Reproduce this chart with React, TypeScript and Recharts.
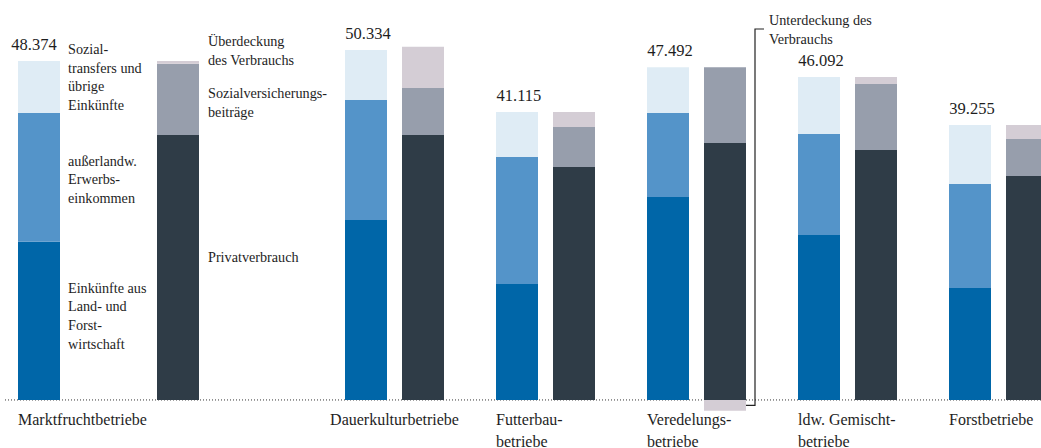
import React from 'react';
import { BarChart, Bar, XAxis, YAxis, CartesianGrid, LabelList } from 'recharts';

// ---------- data ----------
const categories = [
  'Marktfruchtbetriebe',
  'Dauerkulturbetriebe',
  'Futterbau-\nbetriebe',
  'Veredelungs-\nbetriebe',
  'ldw. Gemischt-\nbetriebe',
  'Forstbetriebe',
];
const totals = [48374, 50334, 41115, 47492, 46092, 39255];
// income side
const landForst = [22590, 25686, 16553, 28968, 23546, 15982];
const ausserlandw = [18366, 17124, 18123, 11987, 14413, 14841];
const sozialtransfers = [7418, 7135, 6439, 6537, 8133, 8432];
// use side
const privatverbrauch = [37816, 37816, 33249, 36674, 35675, 31965];
const sozialversicherung = [10175, 6707, 5708, 10818, 9418, 5280];
const ueberdeckung = [383, 5890, 2158, 0, 999, 2010];
const unterdeckung = [0, 0, 0, -1527, 0, 0];

const lblLandForst = ['Einkünfte aus', 'Land- und', 'Forst-', 'wirtschaft'];
const lblAusser = ['außerlandw.', 'Erwerbs-', 'einkommen'];
const lblSozial = ['Sozial-', 'transfers und', 'übrige', 'Einkünfte'];
const lblPrivat = ['Privatverbrauch'];
const lblSV = ['Sozialversicherungs-', 'beiträge'];
const lblUeber = ['Überdeckung', 'des Verbrauchs'];
const lblUnter = ['Unterdeckung des', 'Verbrauchs'];

const rows = categories.map((name, i) => ({
  name,
  total: totals[i],
  landForst: landForst[i],
  ausserlandw: ausserlandw[i],
  sozialtransfers: sozialtransfers[i],
  privatverbrauch: privatverbrauch[i],
  sozialversicherung: sozialversicherung[i],
  ueberdeckung: ueberdeckung[i],
  unterdeckung: unterdeckung[i],
}));

// ---------- style ----------
const C = {
  landForst: '#0066A8',
  ausser: '#5494C9',
  sozial: '#DFECF5',
  privat: '#2F3C47',
  sv: '#979EAC',
  ueber: '#D4CDD5',
};
const FONT = 'Liberation Serif, DejaVu Serif, serif';
const TEXT = '#1e1e1e';
const W = 1041;
const H = 448;
const X_H = 1;
const MARGIN = { top: 21.6, right: 0, bottom: 5, left: 0 };
const Y_DOMAIN: [number, number] = [-6000, 54000];
const PLOT_H = H - MARGIN.top - MARGIN.bottom - X_H;
const BASE_Y = MARGIN.top + (PLOT_H * Y_DOMAIN[1]) / (Y_DOMAIN[1] - Y_DOMAIN[0]);
const BAR = 42;
const GAP_A = 97;
const GAP_B = 15;

const textStyle = { fontFamily: FONT } as React.CSSProperties;

const fmt = (n: number) => String(n).replace(/\B(?=(\d{3})+(?!\d))/g, '.');

const boxOf = (p: any) => {
  const b = p.viewBox && p.viewBox.width !== undefined ? p.viewBox : p;
  const x = Number(b.x);
  const y = Number(b.y);
  const w = Number(b.width);
  const h = Number(b.height);
  return { x, w, top: Math.min(y, y + h), bottom: Math.max(y, y + h) };
};

const makeTick = (gap: number) => (props: any) => {
  const { x, payload } = props;
  const lines = String(payload.value).split('\n');
  const pairW = 2 * BAR + gap;
  const estW = Math.max(...lines.map((l) => l.length)) * 16 * 0.43;
  const centered = estW > pairW;
  const tx = centered ? x : x - pairW / 2;
  return (
    <text
      x={tx}
      y={BASE_Y + 25}
      textAnchor={centered ? 'middle' : 'start'}
      style={textStyle}
      fontSize={16}
      fill={TEXT}
    >
      {lines.map((l, i) => (
        <tspan key={i} x={tx} y={BASE_Y + 25 + i * 22}>
          {l}
        </tspan>
      ))}
    </text>
  );
};

const totalLabel = (shift: number) => (p: any) => {
  const b = boxOf(p);
  if (!isFinite(b.x)) return null;
  return (
    <text
      x={b.x + b.w / 2 + shift}
      y={b.top - 11}
      textAnchor="middle"
      style={textStyle}
      fontSize={16.5}
      fill={TEXT}
    >
      {fmt(Number(p.value))}
    </text>
  );
};

const LH = 18.7;
const annot =
  (lines: string[], mode: 'middle' | 'bottom', shift: number, dx: number) => (p: any) => {
    const b = boxOf(p);
    if (!isFinite(b.x)) return null;
    const n = lines.length;
    const tx = b.x + b.w + dx;
    const first =
      mode === 'middle'
        ? (b.top + b.bottom) / 2 - ((n - 1) * LH) / 2 + 5 + shift
        : b.bottom - (n - 1) * LH + shift;
    return (
      <text x={tx} y={first} style={textStyle} fontSize={14.2} fill={TEXT}>
        {lines.map((l, i) => (
          <tspan key={i} x={tx} y={first + i * LH}>
            {l}
          </tspan>
        ))}
      </text>
    );
  };

const unterLabel = (p: any) => {
  const b = boxOf(p);
  if (!isFinite(b.x) || !(Number(p.value) < 0)) return null;
  const x0 = b.x + b.w;
  const midY = (b.top + b.bottom) / 2;
  const vx = x0 + 9;
  const topY = 29;
  const tx = x0 + 23;
  return (
    <g>
      <polyline
        points={`${vx + 9},${topY} ${vx},${topY} ${vx},${midY} ${x0},${midY}`}
        fill="none"
        stroke="#222"
        strokeWidth={1.2}
      />
      <text x={tx} y={25} style={textStyle} fontSize={14.2} fill={TEXT}>
        {lblUnter.map((l, i) => (
          <tspan key={i} x={tx} y={25 + i * LH}>
            {l}
          </tspan>
        ))}
      </text>
    </g>
  );
};

export default function App() {
  const dataA = rows.slice(0, 1);
  const dataB = rows.slice(1);
  return (
    <div
      style={{
        position: 'absolute',
        left: 0,
        top: 0,
        width: W,
        height: H,
        overflow: 'hidden',
        background: '#fff',
      }}
    >
      {/* groups 2-6 with the baseline */}
      <div style={{ position: 'absolute', left: 0, top: 0 }}>
        <BarChart
          width={1074}
          height={H}
          data={dataB}
          margin={{ ...MARGIN, left: 5 }}
          stackOffset="sign"
          barGap={GAP_B}
          barSize={BAR}
        >
          <CartesianGrid
            vertical={false}
            horizontal
            horizontalValues={[0]}
            stroke="#333"
            strokeDasharray="1 2"
          />
          <XAxis
            dataKey="name"
            type="category"
            padding={{ left: 314, right: 0 }}
            axisLine={false}
            tickLine={false}
            height={X_H}
            interval={0}
            tick={makeTick(GAP_B)}
          />
          <YAxis hide type="number" domain={Y_DOMAIN} allowDataOverflow />
          <Bar dataKey="landForst" stackId="inc" fill={C.landForst} isAnimationActive={false} />
          <Bar dataKey="ausserlandw" stackId="inc" fill={C.ausser} isAnimationActive={false} />
          <Bar dataKey="sozialtransfers" stackId="inc" fill={C.sozial} isAnimationActive={false}>
            <LabelList dataKey="total" content={totalLabel(2)} />
          </Bar>
          <Bar dataKey="privatverbrauch" stackId="use" fill={C.privat} isAnimationActive={false} />
          <Bar dataKey="sozialversicherung" stackId="use" fill={C.sv} isAnimationActive={false} />
          <Bar dataKey="ueberdeckung" stackId="use" fill={C.ueber} isAnimationActive={false} />
          <Bar dataKey="unterdeckung" stackId="use" fill={C.ueber} isAnimationActive={false}>
            <LabelList dataKey="unterdeckung" content={unterLabel} />
          </Bar>
        </BarChart>
      </div>
      {/* group 1 with segment annotations */}
      <div style={{ position: 'absolute', left: 0, top: 0 }}>
        <BarChart
          width={340}
          height={H}
          data={dataA}
          margin={MARGIN}
          stackOffset="sign"
          barGap={GAP_A}
          barSize={BAR}
        >
          <XAxis
            dataKey="name"
            type="category"
            padding={{ left: 0, right: 123 }}
            axisLine={false}
            tickLine={false}
            height={X_H}
            interval={0}
            tick={makeTick(GAP_A)}
          />
          <YAxis hide type="number" domain={Y_DOMAIN} allowDataOverflow />
          <Bar dataKey="landForst" stackId="inc" fill={C.landForst} isAnimationActive={false}>
            <LabelList dataKey="landForst" content={annot(lblLandForst, 'middle', -5, 8)} />
          </Bar>
          <Bar dataKey="ausserlandw" stackId="inc" fill={C.ausser} isAnimationActive={false}>
            <LabelList dataKey="ausserlandw" content={annot(lblAusser, 'middle', 2, 8)} />
          </Bar>
          <Bar dataKey="sozialtransfers" stackId="inc" fill={C.sozial} isAnimationActive={false}>
            <LabelList dataKey="total" content={totalLabel(-5)} />
            <LabelList dataKey="sozialtransfers" content={annot(lblSozial, 'bottom', -3, 8)} />
          </Bar>
          <Bar dataKey="privatverbrauch" stackId="use" fill={C.privat} isAnimationActive={false}>
            <LabelList dataKey="privatverbrauch" content={annot(lblPrivat, 'middle', -10, 9)} />
          </Bar>
          <Bar dataKey="sozialversicherung" stackId="use" fill={C.sv} isAnimationActive={false}>
            <LabelList dataKey="sozialversicherung" content={annot(lblSV, 'middle', 3, 9)} />
          </Bar>
          <Bar dataKey="ueberdeckung" stackId="use" fill={C.ueber} isAnimationActive={false}>
            <LabelList dataKey="ueberdeckung" content={annot(lblUeber, 'bottom', 1.3, 9)} />
          </Bar>
          <Bar dataKey="unterdeckung" stackId="use" fill={C.ueber} isAnimationActive={false} />
        </BarChart>
      </div>
    </div>
  );
}
